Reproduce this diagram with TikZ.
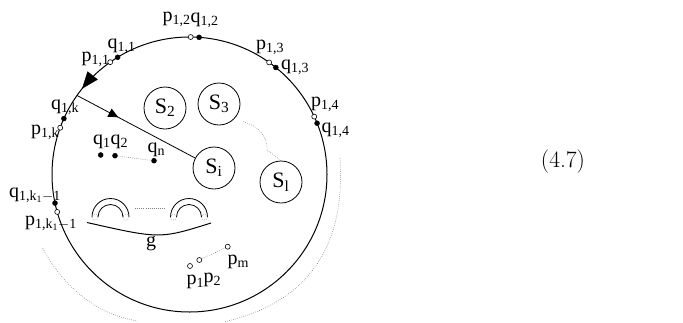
\documentclass[tikz,border=0pt]{standalone}
\usepackage{fontspec}
\newfontfamily\tms{Liberation Serif}
\usetikzlibrary{arrows.meta,decorations.markings,calc}
\begin{document}
\begin{tikzpicture}[x=1pt,y=-1pt,
  lbl/.style={font=\tms\fontsize{20}{20}\selectfont, inner sep=0pt, anchor=base west},
  sset/.style={circle, draw, line width=0.8pt, minimum size=42pt, inner sep=0pt, font=\tms\fontsize{22}{22}\selectfont},
  qdot/.style={circle, fill=black, draw=black, minimum size=5pt, inner sep=0pt},
  pdot/.style={circle, fill=white, draw=black, line width=0.6pt, minimum size=5pt, inner sep=0pt},
  dotline/.style={draw=gray, line width=0.6pt, dash pattern=on 0.7pt off 1.4pt},
  thin line/.style={line width=1pt},
  ]
\useasboundingbox (0,0) rectangle (683,322);
\coordinate (C) at (189.5,174.5);
\draw[thin line] (C) circle (137.5);

% arrow on the big circle
\path[postaction={decorate}, decoration={markings, mark=at position 0.57 with {\arrow{Triangle[length=17pt,width=13pt]}}}]
  (C) ++(-130:137.5) arc[start angle=-130, end angle=-150, radius=137.5];

% points on the circle
\path (C) ++(-125.2:137.5) node[pdot] (p11) {};
\path (C) ++(-121.5:137.5) node[qdot] (q11) {};
\path (C) ++(-89.5:137.5) node[pdot] (p12) {};
\path (C) ++(-86:137.5) node[qdot] (q12) {};
\path (C) ++(-54.6:137.5) node[pdot] (p13) {};
\path (C) ++(-51.1:137.5) node[qdot] (q13) {};
\path (C) ++(-24.9:137.5) node[pdot] (p14) {};
\path (C) ++(-21.9:137.5) node[qdot] (q14) {};
\path (C) ++(-156:137.5) node[qdot] (q1k) {};
\path (C) ++(-160.1:137.5) node[pdot] (p1k) {};
\path (C) ++(168:137.5) node[qdot] (q1kk) {};
\path (C) ++(164.2:137.5) node[pdot] (p1kk) {};
\coordinate (L0) at ($(C)+(-144.9:137.5)$);

% labels on the circle
\node[lbl] (lp11) at (81.5,61) {p\textsubscript{1,1}};
\node[lbl] (lq11) at (107.5,48.5) {q\textsubscript{1,1}};
\node[lbl] (lp12) at (162.5,21.5) {p\textsubscript{1,2}};
\node[lbl] (lq12) at (190.5,22) {q\textsubscript{1,2}};
\node[lbl] (lp13) at (256,49) {p\textsubscript{1,3}};
\node[lbl] (lq13) at (281,69.5) {q\textsubscript{1,3}};
\node[lbl] (lp14) at (311,106) {p\textsubscript{1,4}};
\node[lbl] (lq14) at (321.5,132.5) {q\textsubscript{1,4}};
\node[lbl] (lq1k) at (51,109.5) {q\textsubscript{1,k}};
\node[lbl] (lp1k) at (31,134.5) {p\textsubscript{1,k}};
\node[lbl] (lq1kk) at (9,197.5) {q\textsubscript{1,k\textsubscript{1}$-$1}};
\node[lbl] (lp1kk) at (25,225) {p\textsubscript{1,k\textsubscript{1}$-$1}};

% sets
\node[sset] (S2) at (165,108) {S\textsubscript{2}};
\node[sset] (S3) at (219,104) {S\textsubscript{3}};
\node[sset] (Si) at (214,168) {S\textsubscript{i}};
\node[sset] (Sl) at (281,182) {S\textsubscript{l}};
\draw[dotline] (243.3,121.7) .. controls (258,126) and (267,135) .. (267.3,150) -- (Sl.north);

% path into S_i
\draw[line width=0.8pt, postaction={decorate}, decoration={markings, mark=at position 0.35 with {\arrow{Triangle[length=10pt,width=9pt]}}}] (L0) -- (Si);

% interior points q
\node[qdot] (q1) at (100.7,155) {};
\node[qdot] (q2) at (115,155.7) {};
\node[qdot] (qn) at (154,160.7) {};
\draw[dotline] (q2) -- (qn);
\node[lbl] (lq1) at (93,144) {q\textsubscript{1}};
\node[lbl] (lq2) at (110.5,144) {q\textsubscript{2}};
\node[lbl] (lqn) at (147.5,152.5) {q\textsubscript{n}};

% handles
\foreach \hx in {110.5,189} {
  \draw[line width=0.8pt] (\hx+18.5,217) arc[start angle=0, end angle=-180, radius=18.5];
  \draw[line width=0.8pt] (\hx+12.5,217) arc[start angle=0, end angle=-180, radius=12.5];
  \draw[dotline, line width=0.5pt] (\hx-15.5,217) circle (3);
  \draw[dotline, line width=0.5pt] (\hx+15.5,217) circle (3);
}
\coordinate (h1) at (135,208.5);
\coordinate (h2) at (165,208.5);
\draw[dotline] (h1) -- (h2);
\coordinate (g0) at (87,222.5);
\coordinate (g1) at (211,223);
\draw[line width=1pt] (g0) .. controls (160,239) .. (g1);
\node[lbl] (lg) at (146,246.5) {g};

% interior points p
\node[pdot] (pp1) at (190,266) {};
\node[pdot] (pp2) at (199.3,260) {};
\node[pdot] (ppm) at (227.7,246.7) {};
\draw[dotline] (pp2) -- (ppm);
\node[lbl] (lpp1) at (186.5,284.5) {p\textsubscript{1}};
\node[lbl] (lpp2) at (203.5,282.5) {p\textsubscript{2}};
\node[lbl] (lppm) at (227.5,264.5) {p\textsubscript{m}};

% outer dotted arcs
\coordinate (a0) at (42.7,248.3);
\coordinate (a1) at (136.7,320.7);
\draw[dotline] (a0) .. controls (65,290) and (100,315) .. (a1);
\coordinate (b0) at (340,158.3);
\coordinate (b1) at (225,321.7);
\draw[dotline] (b0) .. controls (345,235) and (318,300) .. (b1);

% equation number
\node[font=\fontsize{23.5}{25}\selectfont, inner sep=0pt] (eq) at (563,162) {(4.7)};
\end{tikzpicture}
\end{document}
